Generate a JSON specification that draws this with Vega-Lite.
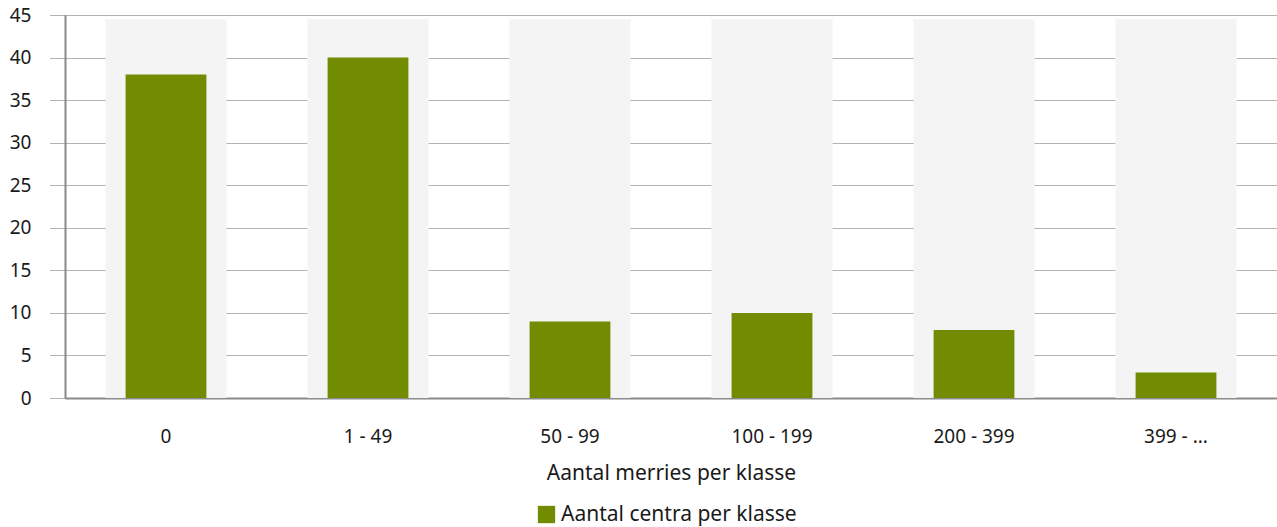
{
  "$schema": "https://vega.github.io/schema/vega-lite/v6.json",
  "autosize": {"type": "none"},
  "width": 1212,
  "height": 383,
  "padding": {"left": 65, "top": 15, "right": 0, "bottom": 129},
  "background": "white",
  "config": {
    "font": "Noto Sans",
    "view": {"stroke": null},
    "axis": {"labelFont": "Noto Sans", "titleFont": "Noto Sans"}
  },
  "data": {
    "values": [
      {"klasse": "0", "aantal": 38, "serie": "Aantal centra per klasse"},
      {"klasse": "1 - 49", "aantal": 40, "serie": "Aantal centra per klasse"},
      {"klasse": "50 - 99", "aantal": 9, "serie": "Aantal centra per klasse"},
      {"klasse": "100 - 199", "aantal": 10, "serie": "Aantal centra per klasse"},
      {"klasse": "200 - 399", "aantal": 8, "serie": "Aantal centra per klasse"},
      {"klasse": "399 - ...", "aantal": 3, "serie": "Aantal centra per klasse"}
    ]
  },
  "encoding": {
    "x": {
      "field": "klasse",
      "type": "nominal",
      "sort": null,
      "scale": {"paddingInner": 0, "paddingOuter": 0},
      "axis": {
        "title": "Aantal merries per klasse",
        "labelAngle": 0,
        "labelFontSize": 19,
        "labelColor": "#1a1a1a",
        "labelPadding": 29,
        "ticks": false,
        "domainColor": "#8a8a8a",
        "domainWidth": 2,
        "titleFontSize": 21,
        "titleFontWeight": "normal",
        "titleColor": "#1a1a1a",
        "titlePadding": 16,
        "grid": false
      }
    }
  },
  "layer": [
    {
      "mark": {"type": "bar", "color": "#f4f4f4", "width": {"band": 0.6}},
      "encoding": {
        "y": {"datum": 44.5, "type": "quantitative"},
        "y2": {"datum": 0}
      }
    },
    {
      "mark": {"type": "bar", "width": {"band": 0.4}},
      "encoding": {
        "y": {
          "field": "aantal",
          "type": "quantitative",
          "scale": {"domain": [0, 45], "nice": false},
          "axis": {
            "title": null,
            "values": [0, 5, 10, 15, 20, 25, 30, 35, 40, 45],
            "labelFontSize": 19,
            "labelColor": "#1a1a1a",
            "tickSize": 15,
            "tickColor": "#666666",
            "tickOpacity": 1,
            "tickDash": [1, 1],
            "tickWidth": 1,
            "labelPadding": 19,
            "domainColor": "#8a8a8a",
            "domainWidth": 2,
            "grid": true,
            "gridColor": "#666666",
            "gridOpacity": 1,
            "gridDash": [1, 1],
            "gridWidth": 1
          }
        },
        "color": {
          "field": "serie",
          "type": "nominal",
          "scale": {"range": ["#718c00"]},
          "legend": {
            "orient": "none",
            "legendX": 471,
            "legendY": 489,
            "padding": 0,
            "title": null,
            "symbolType": "square",
            "symbolSize": 300,
            "symbolStrokeWidth": 0,
            "symbolOpacity": 1,
            "labelFontSize": 21,
            "labelLimit": 400,
            "labelColor": "#1a1a1a",
            "labelOffset": 4
          }
        }
      }
    }
  ]
}
